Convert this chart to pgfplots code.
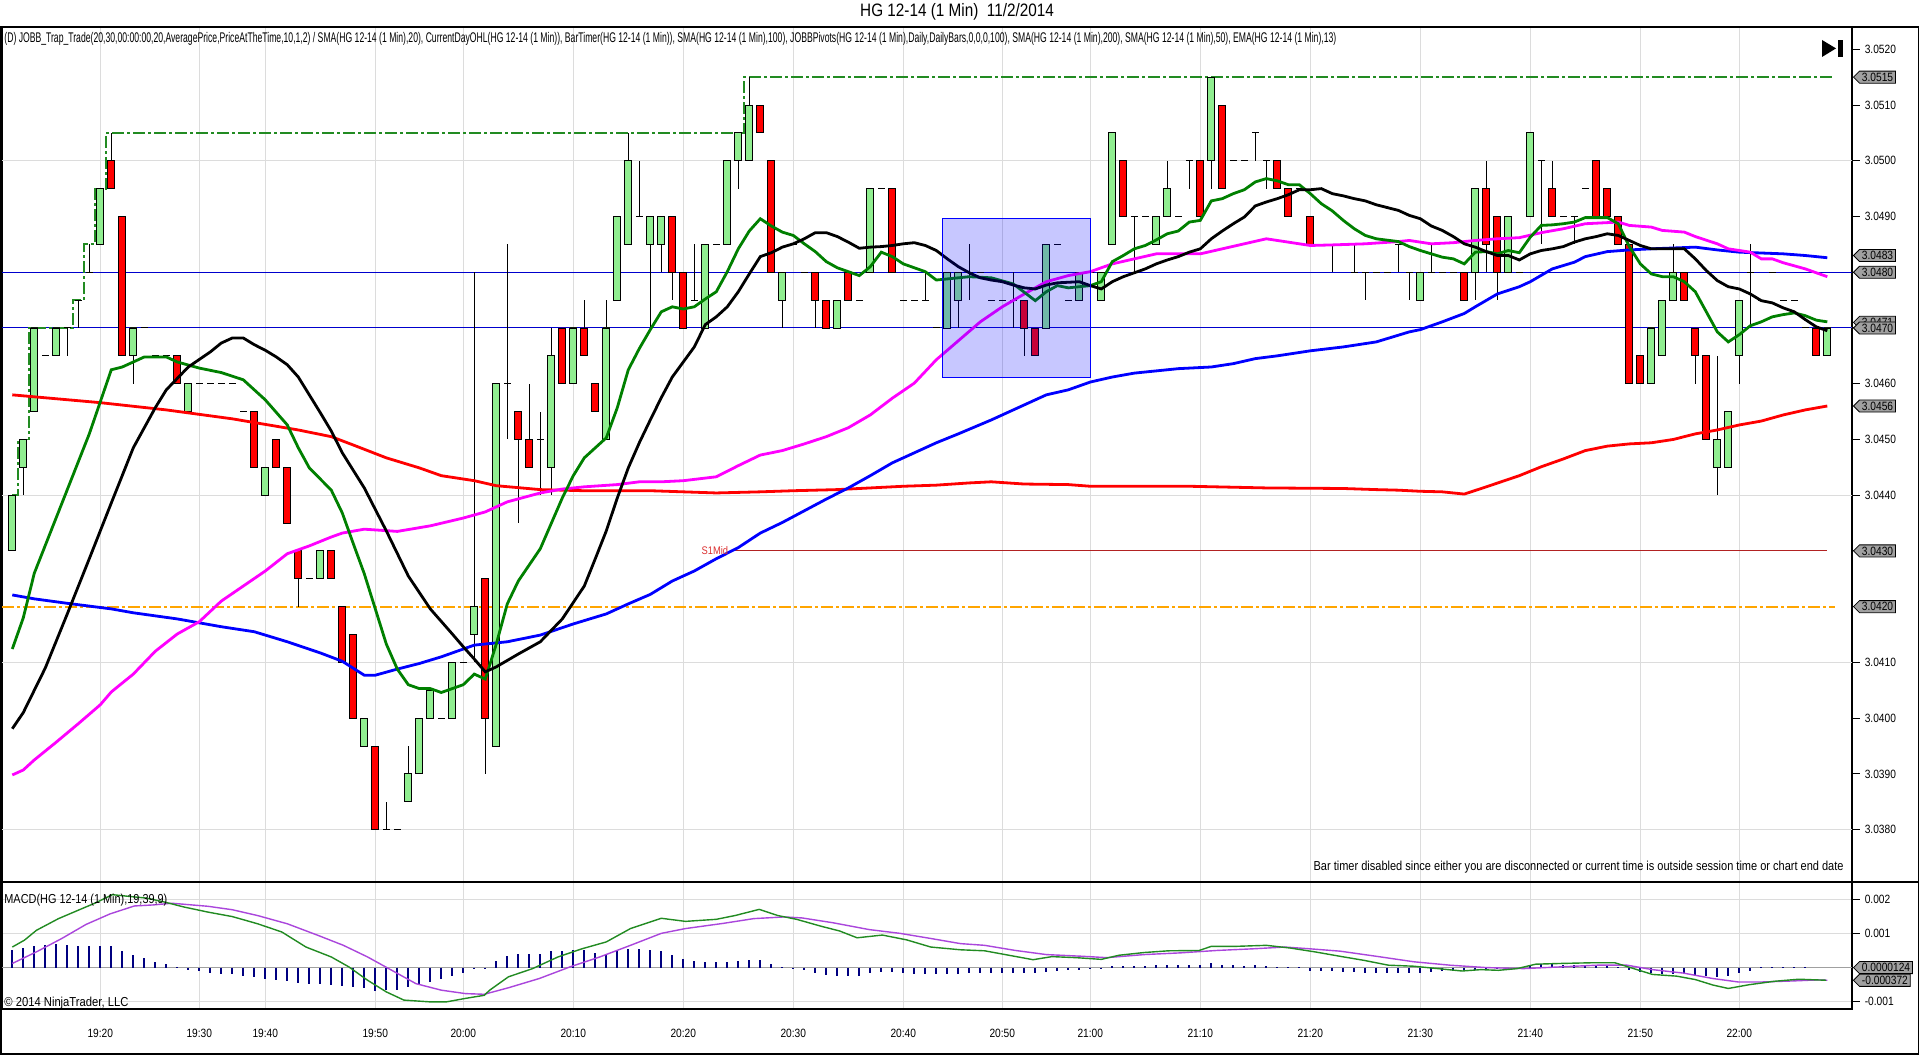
\documentclass[border=0pt]{standalone}
\usepackage{fontspec}
\setmainfont{Liberation Sans}[FakeStretch=0.85]
\usepackage{graphicx}
\usepackage{pgfplots}
\pgfplotsset{compat=1.18}
\usepackage{pgfplotstable}
\usetikzlibrary{shapes.symbols}

\definecolor{gridgray}{RGB}{220,220,220}
\definecolor{candlegreen}{RGB}{144,238,144}
\definecolor{candlered}{RGB}{255,0,0}
\definecolor{smagreen}{RGB}{0,128,0}
\definecolor{smared}{RGB}{255,0,0}
\definecolor{smablue}{RGB}{0,0,255}
\definecolor{smamagenta}{RGB}{255,0,255}
\definecolor{hiline}{RGB}{34,139,34}
\definecolor{lowline}{RGB}{255,165,0}
\definecolor{pivblue}{RGB}{0,0,205}
\definecolor{s1red}{RGB}{178,34,34}
\definecolor{boxgray}{RGB}{160,160,160}
\definecolor{macdgreen}{RGB}{34,139,34}
\definecolor{macdpurple}{RGB}{170,70,220}
\definecolor{histnavy}{RGB}{0,0,128}

\pgfplotstableread{
i o h l c
0 3.0430 3.0440 3.0430 3.0440
1 3.0445 3.0450 3.0440 3.0450
2 3.0455 3.0470 3.0455 3.0470
3 3.0465 3.0465 3.0465 3.0465
4 3.0465 3.0470 3.0465 3.0470
5 3.0470 3.0470 3.0465 3.0470
6 3.0475 3.0475 3.0470 3.0475
7 3.0480 3.0485 3.0480 3.0480
8 3.0485 3.0495 3.0485 3.0495
9 3.0500 3.0505 3.0495 3.0495
10 3.0490 3.0490 3.0465 3.0465
11 3.0465 3.0470 3.0460 3.0470
12 3.0470 3.0470 3.0470 3.0470
13 3.0465 3.0465 3.0465 3.0465
14 3.0465 3.0465 3.0465 3.0465
15 3.0465 3.0465 3.0460 3.0460
16 3.0455 3.0460 3.0455 3.0460
17 3.0460 3.0460 3.0460 3.0460
18 3.0460 3.0460 3.0460 3.0460
19 3.0460 3.0460 3.0460 3.0460
20 3.0460 3.0460 3.0460 3.0460
21 3.0455 3.0455 3.0455 3.0455
22 3.0455 3.0455 3.0445 3.0445
23 3.0440 3.0445 3.0440 3.0445
24 3.0450 3.0450 3.0445 3.0445
25 3.0445 3.0445 3.0435 3.0435
26 3.0430 3.0430 3.0420 3.0425
27 3.0425 3.0425 3.0425 3.0425
28 3.0425 3.0430 3.0425 3.0430
29 3.0430 3.0430 3.0425 3.0425
30 3.0420 3.0420 3.0410 3.0410
31 3.0415 3.0415 3.0400 3.0400
32 3.0395 3.0400 3.0395 3.0400
33 3.0395 3.0395 3.0380 3.0380
34 3.0380 3.0385 3.0380 3.0380
35 3.0380 3.0380 3.0380 3.0380
36 3.0385 3.0395 3.0385 3.0390
37 3.0390 3.0400 3.0390 3.0400
38 3.0400 3.0405 3.0400 3.0405
39 3.0400 3.0400 3.0400 3.0400
40 3.0400 3.0410 3.0400 3.0410
41 3.0410 3.0410 3.0410 3.0410
42 3.0415 3.0480 3.0410 3.0420
43 3.0425 3.0425 3.0390 3.0400
44 3.0395 3.0460 3.0395 3.0460
45 3.0460 3.0485 3.0450 3.0460
46 3.0455 3.0455 3.0435 3.0450
47 3.0450 3.0460 3.0445 3.0445
48 3.0450 3.0455 3.0440 3.0450
49 3.0445 3.0470 3.0440 3.0465
50 3.0470 3.0470 3.0460 3.0460
51 3.0460 3.0470 3.0460 3.0470
52 3.0470 3.0475 3.0465 3.0465
53 3.0460 3.0460 3.0455 3.0455
54 3.0450 3.0475 3.0450 3.0470
55 3.0475 3.0490 3.0475 3.0490
56 3.0485 3.0505 3.0485 3.0500
57 3.0490 3.0500 3.0490 3.0490
58 3.0485 3.0490 3.0470 3.0490
59 3.0485 3.0490 3.0480 3.0490
60 3.0490 3.0490 3.0475 3.0480
61 3.0480 3.0480 3.0470 3.0470
62 3.0475 3.0485 3.0475 3.0475
63 3.0470 3.0485 3.0470 3.0485
64 3.0485 3.0485 3.0485 3.0485
65 3.0485 3.0500 3.0485 3.0500
66 3.0500 3.0505 3.0495 3.0505
67 3.0500 3.0515 3.0500 3.0510
68 3.0510 3.0510 3.0505 3.0505
69 3.0500 3.0500 3.0480 3.0480
70 3.0475 3.0480 3.0470 3.0480
71 3.0485 3.0485 3.0485 3.0485
72 3.0480 3.0480 3.0480 3.0480
73 3.0480 3.0480 3.0470 3.0475
74 3.0475 3.0475 3.0470 3.0470
75 3.0470 3.0475 3.0470 3.0475
76 3.0480 3.0480 3.0475 3.0475
77 3.0475 3.0475 3.0475 3.0475
78 3.0480 3.0495 3.0480 3.0495
79 3.0495 3.0495 3.0495 3.0495
80 3.0495 3.0495 3.0480 3.0480
81 3.0475 3.0475 3.0475 3.0475
82 3.0475 3.0475 3.0475 3.0475
83 3.0475 3.0480 3.0475 3.0475
84 3.0470 3.0470 3.0470 3.0470
85 3.0470 3.0480 3.0470 3.0480
86 3.0475 3.0480 3.0470 3.0480
87 3.0480 3.0485 3.0475 3.0480
88 3.0480 3.0480 3.0480 3.0480
89 3.0475 3.0475 3.0475 3.0475
90 3.0475 3.0475 3.0475 3.0475
91 3.0475 3.0480 3.0470 3.0475
92 3.0475 3.0475 3.0465 3.0470
93 3.0470 3.0470 3.0465 3.0465
94 3.0470 3.0485 3.0470 3.0485
95 3.0485 3.0485 3.0485 3.0485
96 3.0475 3.0475 3.0475 3.0475
97 3.0475 3.0480 3.0475 3.0480
98 3.0480 3.0480 3.0480 3.0480
99 3.0475 3.0480 3.0475 3.0480
100 3.0485 3.0505 3.0485 3.0505
101 3.0500 3.0500 3.0490 3.0490
102 3.0490 3.0490 3.0480 3.0490
103 3.0490 3.0490 3.0490 3.0490
104 3.0485 3.0490 3.0485 3.0490
105 3.0490 3.0500 3.0490 3.0495
106 3.0490 3.0490 3.0490 3.0490
107 3.0500 3.0500 3.0495 3.0500
108 3.0500 3.0500 3.0490 3.0490
109 3.0500 3.0515 3.0495 3.0515
110 3.0510 3.0510 3.0495 3.0495
111 3.0500 3.0500 3.0500 3.0500
112 3.0500 3.0500 3.0500 3.0500
113 3.0505 3.0505 3.0500 3.0505
114 3.0500 3.0500 3.0495 3.0500
115 3.0500 3.0500 3.0495 3.0495
116 3.0495 3.0495 3.0490 3.0490
117 3.0495 3.0495 3.0495 3.0495
118 3.0490 3.0490 3.0485 3.0485
119 3.0485 3.0485 3.0485 3.0485
120 3.0485 3.0485 3.0480 3.0485
121 3.0485 3.0485 3.0485 3.0485
122 3.0480 3.0485 3.0480 3.0480
123 3.0480 3.0480 3.0475 3.0480
124 3.0480 3.0480 3.0480 3.0480
125 3.0480 3.0480 3.0480 3.0480
126 3.0485 3.0485 3.0480 3.0485
127 3.0480 3.0480 3.0475 3.0480
128 3.0475 3.0480 3.0475 3.0480
129 3.0480 3.0485 3.0480 3.0480
130 3.0480 3.0480 3.0480 3.0480
131 3.0480 3.0480 3.0480 3.0480
132 3.0480 3.0480 3.0475 3.0475
133 3.0480 3.0495 3.0475 3.0495
134 3.0495 3.0500 3.0480 3.0485
135 3.0490 3.0490 3.0475 3.0480
136 3.0480 3.0490 3.0480 3.0490
137 3.0480 3.0480 3.0480 3.0480
138 3.0490 3.0505 3.0490 3.0505
139 3.0500 3.0500 3.0485 3.0500
140 3.0495 3.0500 3.0490 3.0490
141 3.0490 3.0490 3.0490 3.0490
142 3.0490 3.0490 3.0485 3.0490
143 3.0495 3.0495 3.0495 3.0495
144 3.0500 3.0500 3.0490 3.0490
145 3.0495 3.0495 3.0490 3.0490
146 3.0490 3.0490 3.0485 3.0485
147 3.0485 3.0485 3.0460 3.0460
148 3.0465 3.0465 3.0460 3.0460
149 3.0460 3.0470 3.0460 3.0470
150 3.0465 3.0475 3.0465 3.0475
151 3.0475 3.0485 3.0475 3.0480
152 3.0480 3.0480 3.0475 3.0475
153 3.0470 3.0470 3.0460 3.0465
154 3.0465 3.0465 3.0450 3.0450
155 3.0445 3.0465 3.0440 3.0450
156 3.0445 3.0455 3.0445 3.0455
157 3.0465 3.0475 3.0460 3.0475
158 3.0480 3.0485 3.0470 3.0480
159 3.0475 3.0475 3.0475 3.0475
160 3.0480 3.0480 3.0480 3.0480
161 3.0475 3.0475 3.0475 3.0475
162 3.0475 3.0475 3.0475 3.0475
163 3.0470 3.0470 3.0470 3.0470
164 3.0470 3.0470 3.0465 3.0465
165 3.0465 3.0470 3.0465 3.0470
}\candles

\pgfplotstableread{
i v
0 0.00052
1 0.00057
2 0.00064
3 0.00065
4 0.00068
5 0.00065
6 0.00062
7 0.00062
8 0.00062
9 0.00062
10 0.00049
11 0.00036
12 0.00028
13 0.00017
14 0.0001
15 0.00001
16 -0.00008
17 -0.0001
18 -0.00016
19 -0.00019
20 -0.00019
21 -0.00024
22 -0.00027
23 -0.00032
24 -0.00035
25 -0.00039
26 -0.00045
27 -0.00047
28 -0.00047
29 -0.0005
30 -0.00054
31 -0.00058
32 -0.00061
33 -0.00068
34 -0.00066
35 -0.00066
36 -0.00056
37 -0.00051
38 -0.00042
39 -0.00032
40 -0.00025
41 -0.00016
42 -0.00005
43 -0.00003
44 0.00018
45 0.00033
46 0.00039
47 0.00041
48 0.00041
49 0.00048
50 0.00048
51 0.0005
52 0.0005
53 0.00043
54 0.00041
55 0.00048
56 0.00053
57 0.00053
58 0.0005
59 0.00048
60 0.00036
61 0.00024
62 0.00018
63 0.00015
64 0.00015
65 0.00017
66 0.00019
67 0.00021
68 0.00021
69 0.0001
70 0.00001
71 -0.00003
72 -0.00008
73 -0.00016
74 -0.00022
75 -0.00024
76 -0.00024
77 -0.00024
78 -0.00017
79 -0.00013
80 -0.00014
81 -0.00016
82 -0.00019
83 -0.0002
84 -0.0002
85 -0.00019
86 -0.00018
87 -0.00017
88 -0.00016
89 -0.00016
90 -0.00016
91 -0.00016
92 -0.00016
93 -0.00017
94 -0.00014
95 -0.00011
96 -0.00008
97 -0.00006
98 -0.00005
99 -0.00003
100 0.00005
101 0.00005
102 0.00005
103 0.00005
104 0.00007
105 0.00007
106 0.00007
107 0.00007
108 0.00009
109 0.00012
110 0.00009
111 0.00007
112 0.00005
113 0.00007
114 0.00004
115 0.00002
116 0.00001
117 0.00001
118 -0.0001
119 -0.0001
120 -0.00011
121 -0.00013
122 -0.00013
123 -0.00015
124 -0.00016
125 -0.00016
126 -0.00016
127 -0.00016
128 -0.00016
129 -0.00014
130 -0.00011
131 -0.0001
132 -0.00008
133 -0.00006
134 -0.00003
135 -0.00002
136 -0.00003
137 -0.00003
138 0.00007
139 0.0001
140 0.0001
141 0.00009
142 0.00007
143 0.00007
144 0.00007
145 0.00005
146 0.00002
147 -0.00008
148 -0.00013
149 -0.00016
150 -0.00018
151 -0.0002
152 -0.0002
153 -0.00022
154 -0.00024
155 -0.00027
156 -0.00025
157 -0.00016
158 -0.0001
159 0.00001
160 0.00001
161 0.00001
162 0.00001
163 0.00001
}\hist

\tikzset{
  pbox/.style={signal, signal to=west, fill=boxgray, draw=black, line width=0.4pt,
    inner xsep=1.2pt, inner ysep=0.9pt, anchor=west, font=\fontsize{6}{6}\selectfont},
  dashdot/.style={dash pattern=on 6pt off 1.5pt on 1.5pt off 1.5pt},
}
\pgfplotsset{
  pricegeom/.style={scale only axis, width=924.85pt, height=427.5pt,
    at={(1pt,86.5pt)}, anchor=south west, xmin=-0.936, xmax=167.22},
}

\begin{document}
\begin{tikzpicture}
\useasboundingbox (0,0) rectangle (960pt,527.5pt);
\fill[white] (0,0) rectangle (960pt,527.5pt);

% ---------- axis A: frame, grid, ticks, levels, wicks and doji dashes
\begin{axis}[pricegeom, ymin=3.03706, ymax=3.05240,
  axis line style={black, line width=0.8pt},
  xtick={8,17,23,33,41,51,61,71,81,90,98,108,118,128,138,148,157},
  xticklabels={}, x tick style={draw=none},
  xmajorgrids, grid style={gridgray, line width=0.5pt},
  ytick={3.0380,3.0390,3.0400,3.0410,3.0420,3.0430,3.0440,3.0450,3.0460,3.0470,3.0480,3.0490,3.0500,3.0510,3.0520},
  ytick pos=right, yticklabel pos=right, tick align=outside,
  major tick length=4pt,
  y tick style={black, line width=0.5pt},
  yticklabel style={font=\fontsize{6}{7}\selectfont, xshift=-1pt,
    /pgf/number format/.cd, fixed, fixed zerofill, precision=4, assume math mode=true},
  extra y ticks={3.0380,3.0410,3.0440,3.0470,3.0500},
  extra y tick labels={},
  extra y tick style={ymajorgrids=true, major tick length=0pt},
]
\addplot[lowline, line width=0.9pt, dashdot] coordinates {(-0.936,3.0420) (165.7,3.0420)};
\addplot[pivblue, line width=0.5pt] coordinates {(-0.936,3.0480) (167.22,3.0480)};
\addplot[pivblue, line width=0.5pt] coordinates {(-0.936,3.0470) (167.22,3.0470)};
\addplot[s1red, line width=0.5pt] coordinates {(65.2,3.0430) (165,3.0430)};
\addplot[hiline, line width=0.9pt, dashdot, const plot mark mid] coordinates {
 (0,3.0440) (1,3.0450) (2,3.0470) (5,3.0470) (6,3.0475) (7,3.0485) (8,3.0495)
 (9,3.0505) (66,3.0505) (67,3.0515) (165.7,3.0515)};
\addplot[only marks, mark=*, mark size=0pt, mark options={draw=none, fill=none}, forget plot,
  error bars/.cd, y dir=both, y explicit, x dir=both, x fixed=0.33, error mark=none,
  error bar style={draw=black, solid, line width=0.5pt}]
  table[x=i, y=c, y error plus expr=\thisrow{h}-\thisrow{c}, y error minus expr=\thisrow{c}-\thisrow{l}] {\candles};
\end{axis}

% ---------- axis B: candle bodies (prices shifted by 3.03 for the bar base)
\begin{axis}[pricegeom, ymin=0.00706, ymax=0.02240, hide axis,
  ybar stacked, bar width=3.6pt]
\addplot[draw=none, fill=none, forget plot] table[x=i, y expr={min(\thisrow{o},\thisrow{c})-3.03}] {\candles};
\addplot[fill=candlegreen, draw=black, line width=0.45pt] table[x=i, y expr={max(\thisrow{c}-\thisrow{o},0)}] {\candles};
\addplot[fill=candlered, draw=black, line width=0.45pt] table[x=i, y expr={max(\thisrow{o}-\thisrow{c},0)}] {\candles};
\end{axis}

% ---------- axis C: moving averages, box, labels
\begin{axis}[pricegeom, ymin=3.03706, ymax=3.05240, hide axis, clip=false]
\addplot[smared, line width=1.4pt, mark=none] coordinates {
(0,3.0458)(8,3.04566)(14,3.04553)(20,3.04537)(26,3.04517)(29,3.04505)(31,3.0449)(34,3.04467)(37,3.04449)(39,3.04435)(42,3.04426)(44,3.04417)(48,3.0441)(52,3.04408)(58,3.04408)(61,3.04406)(64,3.04404)(68,3.04406)(71,3.04408)(75,3.0441)(78,3.04413)(81,3.04416)(84,3.04418)(87,3.04422)(89,3.04424)(92,3.0442)(96,3.04419)(98,3.04416)(107,3.04416)(114,3.04413)(121,3.04412)(124,3.0441)(126,3.04409)(128,3.04407)(130,3.04406)(132,3.04402)(134,3.04415)(137,3.04435)(139,3.04451)(141,3.04465)(143,3.0448)(145,3.04488)(147,3.04492)(149,3.04494)(151,3.045)(153,3.0451)(155,3.04517)(157,3.04526)(159,3.04533)(161,3.04544)(163,3.04553)(165,3.0456)};
\addplot[smablue, line width=1.4pt, mark=none] coordinates {
(0,3.04221)(2,3.04214)(5,3.04206)(9,3.04196)(11,3.04189)(15,3.04178)(19,3.04164)(22,3.04155)(25,3.04137)(28,3.04117)(30,3.04102)(32,3.04077)(33,3.04077)(35,3.04088)(37,3.04098)(39,3.0411)(42,3.04131)(45,3.04137)(48,3.04149)(51,3.04169)(54,3.04187)(56,3.04205)(58,3.04222)(60,3.04246)(62,3.04264)(64,3.04286)(66,3.04306)(68,3.04332)(70,3.04351)(72,3.04372)(74,3.04393)(76,3.04413)(78,3.04435)(80,3.04458)(82,3.04476)(84,3.04494)(86,3.0451)(89,3.04535)(92,3.04562)(94,3.0458)(96,3.04589)(98,3.04603)(100,3.04612)(102,3.04619)(104,3.04623)(106,3.04627)(109,3.0463)(111,3.04636)(113,3.04645)(115,3.0465)(118,3.04659)(121,3.04666)(124,3.04675)(125,3.04681)(127,3.04693)(128,3.04697)(130,3.04711)(132,3.04726)(133,3.04738)(135,3.04761)(137,3.04774)(138,3.04783)(140,3.04806)(142,3.04818)(143,3.04828)(145,3.04837)(147,3.0484)(149,3.04842)(153,3.04845)(155,3.0484)(157,3.04836)(161,3.04833)(163,3.0483)(165,3.04826)};
\addplot[smamagenta, line width=1.4pt, mark=none] coordinates {
(0,3.03898)(1,3.03907)(2,3.03925)(4,3.03957)(6,3.0399)(8,3.04024)(9,3.04047)(11,3.04079)(13,3.0412)(15,3.04151)(17,3.04173)(19,3.0421)(21,3.04237)(23,3.04264)(25,3.04295)(27,3.04309)(29,3.04325)(30,3.04332)(32,3.04339)(35,3.04335)(38,3.04345)(41,3.04359)(43,3.0437)(45,3.04388)(48,3.04404)(50,3.04411)(52,3.04415)(55,3.04419)(57,3.04424)(59,3.04424)(61,3.04426)(64,3.04433)(66,3.04453)(68,3.04472)(70,3.0448)(72,3.04492)(74,3.04505)(76,3.04521)(78,3.04544)(80,3.04574)(82,3.04601)(84,3.04643)(86,3.04677)(88,3.04711)(90,3.04738)(92,3.04761)(94,3.04783)(96,3.04794)(98,3.04801)(100,3.04815)(102,3.04824)(104,3.04833)(108,3.04833)(110,3.04842)(112,3.04851)(114,3.0486)(116,3.04854)(118,3.04848)(120,3.04849)(123,3.04851)(126,3.04855)(127,3.04857)(129,3.04851)(131,3.04853)(133,3.04857)(135,3.0486)(137,3.04862)(139,3.04871)(141,3.04878)(143,3.04887)(146,3.0489)(147,3.04884)(149,3.04881)(150,3.04875)(152,3.04872)(153,3.04864)(155,3.04851)(156,3.04842)(158,3.04836)(159,3.04824)(160,3.04824)(161,3.04817)(163,3.04806)(165,3.04792)};
\addplot[smagreen, line width=1.4pt, mark=none] coordinates {
(0,3.04124)(1,3.0418)(2,3.0426)(4,3.0436)(6,3.0446)(7,3.0451)(9,3.04625)(10,3.0463)(12,3.04648)(14,3.04648)(15,3.04639)(17,3.04628)(19,3.0462)(21,3.04607)(23,3.04571)(25,3.04526)(26,3.04485)(27,3.04449)(29,3.04409)(30,3.04368)(31,3.04313)(32,3.04259)(33,3.04196)(34,3.04133)(35,3.04088)(36,3.0406)(37,3.04053)(38,3.04053)(39,3.04046)(40,3.04053)(41,3.0406)(42,3.04079)(43,3.0407)(44,3.04133)(45,3.04205)(46,3.04246)(48,3.04304)(50,3.04395)(51,3.04435)(52,3.04467)(54,3.04503)(55,3.04557)(56,3.04625)(57,3.04663)(58,3.04697)(59,3.04729)(60,3.04738)(61,3.04734)(62,3.04738)(63,3.04752)(64,3.04765)(65,3.04801)(66,3.04842)(67,3.04874)(68,3.04896)(69,3.04883)(70,3.04872)(71,3.04866)(72,3.04851)(73,3.04837)(74,3.04819)(75,3.04808)(76,3.04801)(77,3.04794)(78,3.0481)(79,3.04836)(80,3.04828)(81,3.04815)(82,3.04808)(83,3.04801)(84,3.04786)(86,3.0479)(87,3.04792)(89,3.0479)(91,3.04779)(93,3.04749)(94,3.04765)(95,3.04776)(96,3.04772)(98,3.04776)(99,3.04783)(100,3.04819)(101,3.0483)(102,3.04842)(103,3.04848)(104,3.04858)(105,3.04869)(106,3.04874)(107,3.0489)(108,3.04893)(109,3.04928)(110,3.04932)(111,3.04941)(112,3.04948)(113,3.04962)(114,3.04968)(115,3.04964)(116,3.04957)(117,3.04957)(118,3.04941)(119,3.04923)(120,3.0491)(121,3.04893)(122,3.04878)(123,3.04866)(124,3.0486)(126,3.04855)(127,3.04846)(128,3.04839)(129,3.04833)(130,3.04827)(131,3.04824)(132,3.04815)(133,3.04836)(134,3.04837)(135,3.04833)(136,3.04839)(137,3.04835)(138,3.04863)(139,3.04884)(140,3.04885)(141,3.04887)(142,3.0489)(143,3.04898)(145,3.04898)(146,3.04887)(147,3.04846)(148,3.04815)(149,3.04797)(150,3.04792)(151,3.04792)(152,3.04783)(153,3.04765)(154,3.04729)(155,3.04693)(156,3.04675)(157,3.04688)(158,3.04704)(159,3.04711)(160,3.0472)(161,3.04724)(162,3.04727)(163,3.04722)(164,3.04714)(165,3.04711)};
\addplot[black, line width=1.4pt, mark=none] coordinates {
(0,3.03981)(1,3.0401)(3,3.0409)(5,3.04187)(7,3.04286)(9,3.04386)(11,3.04485)(13,3.04557)(14,3.04589)(16,3.0463)(18,3.04657)(19,3.04673)(20,3.04682)(21,3.04682)(22,3.0467)(23,3.0466)(24,3.04648)(25,3.04634)(26,3.04612)(27,3.0458)(28,3.04548)(29,3.04515)(30,3.04476)(32,3.04413)(34,3.04336)(36,3.04255)(38,3.04196)(40,3.04151)(41,3.04128)(42,3.04106)(43,3.04083)(44,3.04092)(46,3.04115)(48,3.04137)(50,3.04178)(52,3.04237)(53,3.04286)(54,3.04336)(55,3.04395)(56,3.04449)(57,3.04494)(58,3.04535)(59,3.04575)(60,3.04612)(61,3.04639)(62,3.04666)(63,3.04706)(64,3.0472)(65,3.04738)(66,3.04765)(67,3.04797)(68,3.04828)(69,3.04835)(70,3.04845)(71,3.04851)(72,3.0486)(73,3.04871)(74,3.04871)(75,3.04864)(76,3.04854)(77,3.04843)(78,3.04845)(79,3.04846)(80,3.04848)(81,3.04851)(82,3.04853)(83,3.04848)(84,3.04839)(85,3.04824)(86,3.0481)(87,3.04799)(88,3.0479)(89,3.04786)(90,3.04783)(91,3.04777)(92,3.04772)(93,3.0477)(94,3.04777)(95,3.04781)(97,3.04783)(98,3.04776)(99,3.0477)(100,3.04783)(101,3.04792)(102,3.04799)(103,3.04806)(104,3.04815)(105,3.04822)(106,3.04828)(107,3.04836)(108,3.04842)(109,3.0486)(110,3.04874)(111,3.04887)(112,3.04899)(113,3.04919)(114,3.04926)(115,3.04932)(116,3.04939)(117,3.04948)(118,3.04948)(119,3.0495)(120,3.04941)(121,3.04937)(122,3.04932)(123,3.04928)(124,3.04921)(125,3.04916)(126,3.04911)(127,3.04902)(128,3.04896)(129,3.04883)(130,3.04875)(131,3.04864)(132,3.04851)(133,3.04845)(134,3.04837)(135,3.0483)(136,3.0483)(137,3.04822)(138,3.04833)(139,3.04839)(140,3.04842)(141,3.04846)(142,3.04854)(143,3.0486)(144,3.04864)(145,3.04869)(146,3.04866)(147,3.04857)(148,3.04848)(149,3.04842)(152,3.04842)(153,3.04824)(154,3.04803)(155,3.04785)(156,3.04774)(157,3.0477)(158,3.04761)(159,3.04749)(160,3.04745)(161,3.04736)(162,3.04729)(163,3.04715)(164,3.04702)(165,3.04695)};
\addplot[draw=smablue, line width=0.5pt, fill=smablue, fill opacity=0.22] coordinates {
(84.6,3.04612) (98,3.04612) (98,3.04896) (84.6,3.04896)} -- cycle;
\node[anchor=east, text={rgb,255:red,220;green,50;blue,50}, font=\fontsize{5.5}{6}\selectfont, inner sep=0.5pt] at (axis cs:65.2,3.0430) {S1Mid};
\node[pbox] at ([xshift=0.6pt]axis cs:167.22,3.0515) {3.0515};
\node[pbox] at ([xshift=0.6pt]axis cs:167.22,3.0483) {3.0483};
\node[pbox] at ([xshift=0.6pt]axis cs:167.22,3.0480) {3.0480};
\node[pbox] at ([xshift=0.6pt]axis cs:167.22,3.0471) {3.0471};
\node[pbox] at ([xshift=0.6pt]axis cs:167.22,3.0470) {3.0470};
\node[pbox] at ([xshift=0.6pt]axis cs:167.22,3.0456) {3.0456};
\node[pbox] at ([xshift=0.6pt]axis cs:167.22,3.0430) {3.0430};
\node[pbox] at ([xshift=0.6pt]axis cs:167.22,3.0420) {3.0420};
\end{axis}

% ---------- axis D: MACD
\begin{axis}[scale only axis, width=924.85pt, height=63.5pt, at={(1pt,23pt)}, anchor=south west,
  xmin=-0.936, xmax=167.22, ymin=-0.00121, ymax=0.0025, clip=false,
  axis line style={black, line width=0.8pt},
  xtick={8,17,23,33,41,51,61,71,81,90,98,108,118,128,138,148,157},
  xticklabels={19:20,19:30,19:40,19:50,20:00,20:10,20:20,20:30,20:40,20:50,21:00,21:10,21:20,21:30,21:40,21:50,22:00},
  xticklabel style={font=\fontsize{6}{7}\selectfont, yshift=-2.5pt},
  x tick style={draw=none},
  xmajorgrids, ymajorgrids, grid style={gridgray, line width=0.5pt},
  ytick={-0.001,0.001,0.002}, yticklabels={-0.001,0.001,0.002},
  scaled y ticks=false,
  ytick pos=right, yticklabel pos=right, tick align=outside, major tick length=4pt,
  y tick style={black, line width=0.5pt},
  yticklabel style={font=\fontsize{6}{7}\selectfont, xshift=-1pt},
]
\addplot[color={rgb,255:red,160;green,160;blue,160}, line width=0.6pt] coordinates {(-0.936,0) (167.22,0)};
\addplot[ycomb, draw=histnavy, line width=0.9pt, mark=none] table[x=i, y=v] {\hist};
\addplot[macdpurple, line width=0.7pt, mark=none] coordinates {
(0,0.00012)(2.2,0.00046)(4.5,0.00085)(6.7,0.00126)(8.9,0.00157)(11.1,0.0018)(12.8,0.00183)(14.5,0.00188)(17.8,0.00179)(20,0.00169)(22.3,0.00152)(25,0.00128)(27.8,0.00094)(30.1,0.00065)(32.3,0.00031)(34.5,-0.00008)(36.7,-0.00047)(39,-0.00066)(41.2,-0.00076)(42.9,-0.00078)(45.1,-0.00059)(47.9,-0.00032)(50.7,0.00002)(53.4,0.00031)(56.2,0.00065)(59,0.001)(61.2,0.00114)(64.6,0.00129)(67.4,0.00143)(70.2,0.00148)(71.8,0.00145)(74.6,0.00131)(77.9,0.00111)(80.7,0.001)(83.5,0.00085)(86.2,0.0007)(88.4,0.00065)(91.2,0.0005)(94,0.00038)(97.3,0.00033)(99.5,0.00029)(102.9,0.00038)(106.2,0.00043)(109.5,0.0005)(112.9,0.00055)(115.7,0.0006)(117.9,0.00055)(120.7,0.00048)(124,0.00033)(127.4,0.00017)(130.7,0.00007)(134,0)(137.4,-0.00003)(140.7,0.00002)(144.1,0.00007)(146.8,0.00007)(149.1,-0.00006)(151.9,-0.00016)(154.6,-0.00032)(156.9,-0.00042)(159.1,-0.00042)(161.9,-0.00039)(164.1,-0.00036)(165,-0.00037)};
\addplot[macdgreen, line width=0.7pt, mark=none] coordinates {
(0,0.0006)(1.1,0.0008)(2.2,0.00109)(4.2,0.00143)(6.1,0.00169)(7.5,0.00188)(9.1,0.00213)(10.6,0.00208)(12.2,0.00203)(13.9,0.00191)(15.6,0.00177)(17.8,0.00162)(20,0.00149)(22.3,0.00128)(24.5,0.00104)(26.7,0.0006)(29,0.00031)(30.6,0.00002)(32.3,-0.00037)(34,-0.00071)(35.6,-0.00095)(37.9,-0.001)(39.5,-0.001)(41.2,-0.0009)(42.9,-0.00081)(43.4,-0.00066)(45.1,-0.00027)(47.3,-0.00003)(49.6,0.00031)(51.8,0.00055)(52.9,0.00065)(54,0.00075)(56.2,0.00114)(59,0.00144)(61.2,0.00135)(64,0.00141)(65.7,0.00152)(67.9,0.0017)(69.6,0.00152)(71.3,0.00141)(73.5,0.00121)(75.2,0.00107)(76.8,0.00087)(79.1,0.00095)(81.3,0.00081)(83.5,0.0006)(86.2,0.00052)(88.4,0.00049)(90.6,0.00036)(92.8,0.00023)(94.5,0.00032)(96.7,0.00029)(99,0.00024)(100.6,0.00036)(102.9,0.00044)(105.1,0.00049)(107.9,0.0005)(109,0.00062)(111.2,0.00062)(114,0.00065)(116.2,0.00057)(118.4,0.00046)(120.7,0.00033)(122.9,0.00021)(125.1,0.00007)(127.4,0.00004)(129.6,-0.00003)(131.8,-0.0001)(133.5,-0.00006)(135.1,-0.00008)(136.8,-0.00003)(138.5,0.0001)(140.7,0.00012)(143.5,0.00014)(145.7,0.00014)(147.4,-0.00003)(149.1,-0.0002)(151.3,-0.00025)(153,-0.00035)(154.6,-0.00051)(156,-0.00061)(157.9,-0.0005)(160.2,-0.0004)(162.4,-0.00034)(164.9,-0.00037)};
\node[pbox] at ([xshift=0.6pt]axis cs:167.22,0) {0.0000124};
\node[pbox] at ([xshift=0.6pt]axis cs:167.22,-0.000372) {-0.000372};
\end{axis}

% ---------- frame and texts
\draw[line width=0.8pt] (0.4pt,0.5pt) rectangle (959.2pt,514pt);
\draw[line width=0.8pt] (925.85pt,86.5pt) -- (959.2pt,86.5pt);
\node[font=\fontsize{9}{10}\selectfont] at (478.5pt,521.5pt) {HG 12-14 (1 Min)\ \ 11/2/2014};
\node[anchor=west, inner sep=0pt] at (2pt,508pt) {\resizebox{666pt}{\height}{\fontsize{7}{8}\selectfont (D) JOBB\_Trap\_Trade(20,30,00:00:00,20,AveragePrice,PriceAtTheTime,10,1,2) / SMA(HG 12-14 (1 Min),20), CurrentDayOHL(HG 12-14 (1 Min)), BarTimer(HG 12-14 (1 Min)), SMA(HG 12-14 (1 Min),100), JOBBPivots(HG 12-14 (1 Min),Daily,DailyBars,0,0,0,100), SMA(HG 12-14 (1 Min),200), SMA(HG 12-14 (1 Min),50), EMA(HG 12-14 (1 Min),13)}};
\node[anchor=east, inner sep=0pt] at (922pt,94pt) {\resizebox{265pt}{\height}{\fontsize{6.5}{7}\selectfont Bar timer disabled since either you are disconnected or current time is outside session time or chart end date}};
\node[anchor=west, inner sep=0pt] at (2pt,77.5pt) {\resizebox{81.5pt}{\height}{\fontsize{6.5}{7}\selectfont MACD(HG 12-14 (1 Min),19,39,9)}};
\node[anchor=west, inner sep=0pt] at (2pt,26pt) {\resizebox{62pt}{\height}{\fontsize{6.5}{7}\selectfont \textcopyright{} 2014 NinjaTrader, LLC}};
\fill (911pt,507.5pt) -- (918pt,503.3pt) -- (911pt,499pt) -- cycle;
\fill (919pt,499pt) rectangle (921.5pt,507.5pt);
\end{tikzpicture}
\end{document}
